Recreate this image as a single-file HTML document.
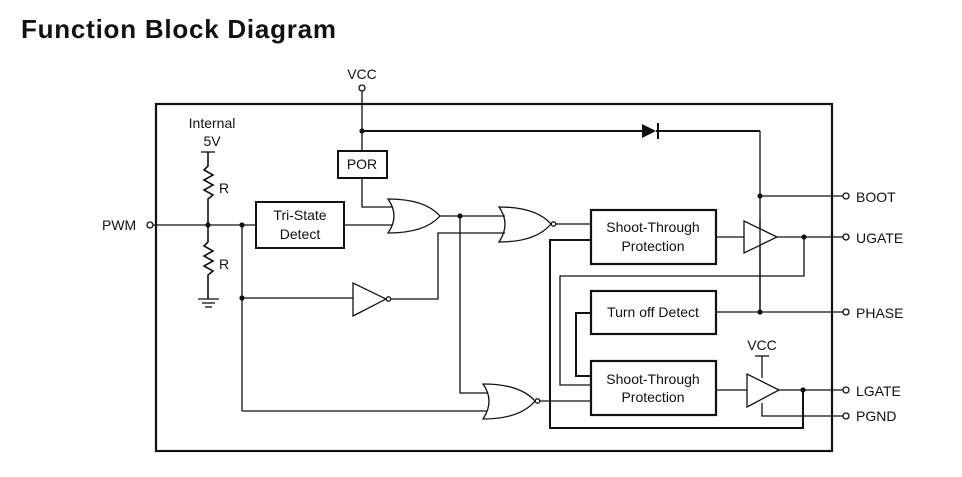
<!DOCTYPE html>
<html><head><meta charset="utf-8"><style>
html,body{margin:0;padding:0;background:#fff;}
svg{display:block;}
text{font-family:"Liberation Sans",Arial,sans-serif;fill:#111;}
</style></head><body>
<svg width="962" height="477" viewBox="0 0 962 477" xmlns="http://www.w3.org/2000/svg">
<text x="21" y="38" font-size="26" font-weight="bold" textLength="315" lengthAdjust="spacing" fill="#000">Function Block Diagram</text>
<g fill="none" stroke="#111" stroke-width="1.3">
<rect x="156" y="104" width="676" height="347" stroke-width="2.2"/>
<circle cx="362" cy="88" r="3" fill="#fff"/>
<line x1="362" y1="91" x2="362" y2="151"/>
<line x1="362" y1="131" x2="642" y2="131" stroke-width="2"/>
<line x1="656" y1="131" x2="760" y2="131" stroke-width="2"/>
<line x1="760" y1="131" x2="760" y2="311"/>
<rect x="338" y="151" width="49" height="27" stroke-width="2"/>
<polyline points="362,178 362,207 393,207"/>
<circle cx="150" cy="225" r="3" fill="#fff"/>
<line x1="153" y1="225" x2="256" y2="225"/>
<line x1="201" y1="152" x2="215" y2="152"/>
<polyline points="208,152 208,166 204,170 213,175 204,180 213,185 204,190 213,195 208,199 208,242 204,246 213,251 204,256 213,261 204,266 213,271 208,275 208,299" stroke-width="1.6"/>
<line x1="198" y1="299" x2="219" y2="299"/>
<line x1="202" y1="303" x2="215" y2="303"/>
<line x1="205" y1="307" x2="212" y2="307"/>
<rect x="256" y="202" width="88" height="46" stroke-width="2"/>
<line x1="344" y1="225" x2="393" y2="225"/>
<line x1="242" y1="225" x2="242" y2="411"/>
<line x1="242" y1="298" x2="353" y2="298"/>
<line x1="242" y1="411" x2="487" y2="411"/>
<polygon points="353,283 353,316 386,299"/>
<circle cx="388.5" cy="299" r="2.2" fill="#fff"/>
<polyline points="391,299 438,299 438,233 505,233"/>
<path d="M388,199 Q400,216 388,233 Q425,233 440,216 Q425,199 388,199 Z"/>
<line x1="440" y1="216" x2="505" y2="216"/>
<polyline points="460,216 460,393 488,393"/>
<path d="M499,207 Q511,224 499,242 Q536,242 551,224 Q536,207 499,207 Z"/>
<circle cx="553.5" cy="224" r="2.2" fill="#fff"/>
<line x1="556" y1="224" x2="591" y2="224"/>
<path d="M483,384 Q495,401 483,419 Q520,419 535,401 Q520,384 483,384 Z"/>
<circle cx="537.5" cy="401" r="2.2" fill="#fff"/>
<line x1="540" y1="401" x2="591" y2="401"/>
<rect x="591" y="210" width="125" height="54" stroke-width="2.2"/>
<rect x="591" y="291" width="125" height="43" stroke-width="2.2"/>
<rect x="591" y="361" width="125" height="54" stroke-width="2.2"/>
<polyline points="591,240 550,240 550,428 803,428 803,390" stroke-width="2"/>
<polyline points="804,237 804,276 560,276 560,385 591,385"/>
<polyline points="591,313 576,313 576,376 591,376" stroke-width="2"/>
<line x1="716" y1="237" x2="744" y2="237"/>
<polygon points="744,221 744,253 777,237" fill="#fff"/>
<line x1="760" y1="221" x2="760" y2="311"/>
<line x1="777" y1="237" x2="843" y2="237"/>
<line x1="760" y1="196" x2="843" y2="196"/>
<line x1="716" y1="312" x2="843" y2="312"/>
<line x1="716" y1="390" x2="747" y2="390"/>
<polygon points="747,374 747,407 779,390" fill="#fff"/>
<line x1="755" y1="356" x2="769" y2="356"/>
<line x1="762" y1="356" x2="762" y2="378"/>
<polyline points="762,403 762,416 843,416"/>
<line x1="779" y1="390" x2="843" y2="390"/>
<circle cx="846" cy="196" r="3" fill="#fff"/>
<circle cx="846" cy="237" r="3" fill="#fff"/>
<circle cx="846" cy="312" r="3" fill="#fff"/>
<circle cx="846" cy="390" r="3" fill="#fff"/>
<circle cx="846" cy="416" r="3" fill="#fff"/>
</g>
<polygon points="642,124 642,138 656,131" fill="#111"/>
<line x1="658" y1="123" x2="658" y2="139" stroke="#111" stroke-width="2"/>
<g fill="#111">
<circle cx="362" cy="131" r="2.6"/>
<circle cx="208" cy="225" r="2.6"/>
<circle cx="242" cy="225" r="2.6"/>
<circle cx="242" cy="298" r="2.6"/>
<circle cx="460" cy="216" r="2.6"/>
<circle cx="760" cy="196" r="2.6"/>
<circle cx="804" cy="237" r="2.6"/>
<circle cx="760" cy="312" r="2.6"/>
<circle cx="803" cy="390" r="2.6"/>
</g>
<g font-size="14">
<text x="362" y="79" text-anchor="middle">VCC</text>
<text x="212" y="128" text-anchor="middle">Internal</text>
<text x="212" y="146" text-anchor="middle">5V</text>
<text x="219" y="193">R</text>
<text x="219" y="269">R</text>
<text x="102" y="230">PWM</text>
<text x="362" y="169" text-anchor="middle">POR</text>
<text x="300" y="220" text-anchor="middle">Tri-State</text>
<text x="300" y="239" text-anchor="middle">Detect</text>
<text x="653" y="232" text-anchor="middle">Shoot-Through</text>
<text x="653" y="251" text-anchor="middle">Protection</text>
<text x="653" y="317" text-anchor="middle">Turn off Detect</text>
<text x="653" y="384" text-anchor="middle">Shoot-Through</text>
<text x="653" y="402" text-anchor="middle">Protection</text>
<text x="762" y="350" text-anchor="middle">VCC</text>
<text x="856" y="202">BOOT</text>
<text x="856" y="243">UGATE</text>
<text x="856" y="318">PHASE</text>
<text x="856" y="396">LGATE</text>
<text x="856" y="421">PGND</text>
</g>
</svg>
</body></html>
